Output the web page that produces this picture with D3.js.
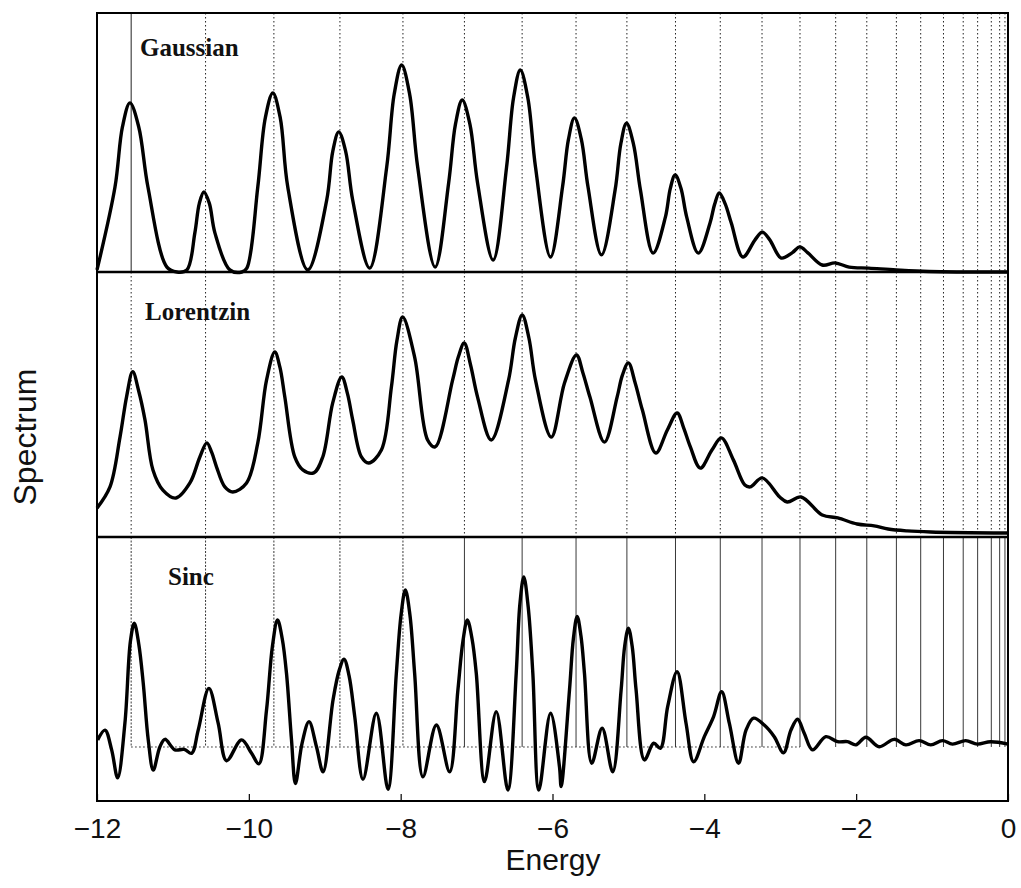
<!DOCTYPE html>
<html>
<head>
<meta charset="utf-8">
<script src="https://cdn.jsdelivr.net/npm/d3@7"></script>
<style>
  body { margin: 0; background: #fff; }
  svg { display: block; }
</style>
</head>
<body>
<div id="plot"></div>
<script>
var w = 1021,
    h = 888;

// energy levels (dotted lines)
var levels = [-11.55, -10.57, -9.67, -8.80, -7.97, -7.16, -6.40, -5.69, -5.02, -4.38,
  -3.79, -3.24, -2.74, -2.27, -1.86, -1.47, -1.15, -0.85, -0.59, -0.40, -0.22, -0.11, -0.04];

var xTicks = [-12, -10, -8, -6, -4, -2, 0];

var panelNames = ['Gaussian', 'Lorentzin', 'Sinc'];

// [energy, spectrum]
var gaussian = [
  [-12.00, 0.008], [-11.763, 0.328], [-11.665, 0.560], [-11.566, 0.653], [-11.450, 0.560],
  [-11.329, 0.328], [-11.079, 0.019], [-10.947, 0.000], [-10.816, 0.008], [-10.711, 0.151],
  [-10.652, 0.265], [-10.592, 0.309], [-10.520, 0.265], [-10.447, 0.151], [-10.25, 0.008],
  [-10.092, 0.000], [-10.026, 0.015], [-9.882, 0.328], [-9.783, 0.595], [-9.684, 0.691],
  [-9.586, 0.595], [-9.487, 0.328], [-9.224, 0.008], [-8.974, 0.278], [-8.895, 0.465],
  [-8.816, 0.541], [-8.724, 0.465], [-8.632, 0.278], [-8.408, 0.015], [-8.184, 0.405],
  [-8.085, 0.687], [-7.987, 0.799], [-7.882, 0.687], [-7.776, 0.405], [-7.546, 0.019],
  [-7.368, 0.344], [-7.278, 0.571], [-7.189, 0.664], [-7.088, 0.571], [-6.987, 0.344],
  [-6.782, 0.046], [-6.605, 0.405], [-6.514, 0.671], [-6.424, 0.780], [-6.324, 0.671],
  [-6.224, 0.405], [-6.026, 0.058], [-5.868, 0.328], [-5.790, 0.512], [-5.711, 0.595],
  [-5.620, 0.512], [-5.532, 0.328], [-5.355, 0.066], [-5.175, 0.317], [-5.100, 0.495],
  [-5.026, 0.575], [-4.934, 0.495], [-4.842, 0.317], [-4.675, 0.073], [-4.513, 0.212],
  [-4.448, 0.323], [-4.384, 0.375], [-4.308, 0.323], [-4.232, 0.212], [-4.079, 0.073],
  [-3.925, 0.189], [-3.864, 0.262], [-3.803, 0.305], [-3.724, 0.262], [-3.645, 0.189],
  [-3.492, 0.058], [-3.330, 0.125], [-3.237, 0.154], [-3.140, 0.125], [-2.987, 0.054],
  [-2.840, 0.075], [-2.742, 0.097], [-2.640, 0.075], [-2.447, 0.027], [-2.276, 0.035],
  [-2.092, 0.019], [-1.834, 0.015], [-1.474, 0.008], [-1.04, 0.002], [0, 0.000]
];

var lorentzin = [
  [-12.00, 0.109], [-11.829, 0.189], [-11.697, 0.377], [-11.610, 0.530], [-11.530, 0.624],
  [-11.450, 0.550], [-11.368, 0.442], [-11.263, 0.253], [-11.132, 0.177], [-10.961, 0.147],
  [-10.776, 0.204], [-10.645, 0.302], [-10.553, 0.355], [-10.490, 0.320], [-10.425, 0.264],
  [-10.316, 0.189], [-10.211, 0.170], [-10.030, 0.204], [-9.882, 0.355], [-9.767, 0.592],
  [-9.658, 0.698], [-9.590, 0.640], [-9.526, 0.528], [-9.395, 0.302], [-9.289, 0.253],
  [-9.145, 0.242], [-9.026, 0.302], [-8.895, 0.506], [-8.776, 0.604], [-8.700, 0.540],
  [-8.632, 0.442], [-8.517, 0.302], [-8.421, 0.279], [-8.254, 0.328], [-8.122, 0.566],
  [-8.050, 0.740], [-7.974, 0.830], [-7.816, 0.679], [-7.645, 0.366], [-7.546, 0.340],
  [-7.316, 0.592], [-7.240, 0.680], [-7.163, 0.732], [-7.080, 0.650], [-6.987, 0.528],
  [-6.807, 0.366], [-6.579, 0.592], [-6.490, 0.750], [-6.399, 0.838], [-6.310, 0.750],
  [-6.224, 0.592], [-6.016, 0.377], [-5.842, 0.581], [-5.684, 0.687], [-5.600, 0.620],
  [-5.507, 0.528], [-5.316, 0.358], [-5.149, 0.528], [-5.080, 0.610], [-5.000, 0.657],
  [-4.910, 0.580], [-4.816, 0.479], [-4.639, 0.317], [-4.487, 0.404], [-4.358, 0.468],
  [-4.270, 0.410], [-4.184, 0.340], [-4.053, 0.260], [-3.900, 0.328], [-3.776, 0.374],
  [-3.618, 0.291], [-3.466, 0.196], [-3.395, 0.189], [-3.237, 0.223], [-3.007, 0.151],
  [-2.908, 0.132], [-2.726, 0.151], [-2.447, 0.083], [-2.242, 0.072], [-1.987, 0.049],
  [-1.763, 0.042], [-1.579, 0.030], [-1.329, 0.023], [-1.018, 0.019], [0, 0.015]
];

var sinc = [
  [-11.991, 0.027], [-11.895, 0.064], [-11.807, -0.011], [-11.728, -0.117], [-11.632, 0.091],
  [-11.560, 0.400], [-11.509, 0.469], [-11.450, 0.390], [-11.391, 0.242], [-11.325, 0.027],
  [-11.259, -0.087], [-11.171, 0.001], [-11.105, 0.029], [-10.974, -0.011], [-10.851, -0.009],
  [-10.754, -0.024], [-10.667, 0.064], [-10.526, 0.222], [-10.404, 0.090], [-10.293, -0.052],
  [-10.096, 0.027], [-9.964, -0.024], [-9.868, -0.064], [-9.767, 0.140], [-9.690, 0.380],
  [-9.622, 0.481], [-9.560, 0.410], [-9.504, 0.279], [-9.438, 0.027], [-9.386, -0.138],
  [-9.299, 0.014], [-9.207, 0.096], [-9.109, 0.001], [-9.022, -0.094], [-8.891, 0.178],
  [-8.810, 0.290], [-8.746, 0.332], [-8.680, 0.270], [-8.605, 0.115], [-8.496, -0.122],
  [-8.320, 0.128], [-8.167, -0.160], [-8.057, 0.279], [-7.995, 0.500], [-7.938, 0.595],
  [-7.878, 0.500], [-7.816, 0.279], [-7.707, -0.113], [-7.530, 0.083], [-7.355, -0.094],
  [-7.246, 0.216], [-7.180, 0.400], [-7.122, 0.481], [-7.060, 0.410], [-7.004, 0.279],
  [-6.895, -0.131], [-6.741, 0.134], [-6.588, -0.163], [-6.478, 0.279], [-6.430, 0.540],
  [-6.378, 0.644], [-6.320, 0.530], [-6.259, 0.279], [-6.180, -0.163], [-6.026, 0.128],
  [-5.908, -0.075], [-5.886, -0.150], [-5.776, 0.216], [-5.725, 0.410], [-5.675, 0.494],
  [-5.625, 0.420], [-5.579, 0.279], [-5.483, -0.062], [-5.346, 0.071], [-5.207, -0.094],
  [-5.096, 0.216], [-5.050, 0.380], [-5.000, 0.450], [-4.950, 0.380], [-4.899, 0.216],
  [-4.789, -0.049], [-4.667, 0.014], [-4.579, -0.005], [-4.483, 0.153], [-4.359, 0.285],
  [-4.241, 0.090], [-4.141, -0.056], [-4.000, 0.039], [-3.878, 0.115], [-3.772, 0.209],
  [-3.671, 0.090], [-3.549, -0.062], [-3.451, 0.064], [-3.351, 0.109], [-3.211, 0.083],
  [-3.079, 0.039], [-2.957, -0.022], [-2.859, 0.064], [-2.772, 0.105], [-2.684, 0.052],
  [-2.575, -0.011], [-2.399, 0.039], [-2.246, 0.020], [-2.114, 0.020], [-2.004, 0.008],
  [-1.872, 0.037], [-1.697, 0.001], [-1.500, 0.029], [-1.346, 0.008], [-1.171, 0.024],
  [-1.017, 0.008], [-0.864, 0.024], [-0.732, 0.011], [-0.557, 0.024], [-0.404, 0.011],
  [-0.228, 0.020], [0, 0.011]
];

var svg = d3.select('#plot').append('svg')
    .attr('width', w)
    .attr('height', h)
    .style('background', '#fff');

var x = d3.scaleLinear().domain([-12, 0]).range([97, 1008]);

// one y scale per panel
var panels = [
  {name: panelNames[0], data: gaussian, y: d3.scaleLinear().domain([0, 1]).range([272, 13]), lx: 140, ly: 56},
  {name: panelNames[1], data: lorentzin, y: d3.scaleLinear().domain([0, 1]).range([537, 272]), lx: 145, ly: 320},
  {name: panelNames[2], data: sinc, y: d3.scaleLinear().domain([-0.2045, 0.795]).range([801, 537]), lx: 168, ly: 585}
];

panels.forEach(function(p, i) {
    var g = svg.append('g').attr('class', 'panel');
    var r = p.y.range();

    // level lines
    g.selectAll('.level')
        .data(levels)
        .enter()
        .append('line')
        .attr('x1', function(d){ return x(d); })
        .attr('x2', function(d){ return x(d); })
        .attr('y1', r[1])
        .attr('y2', i == 2 ? p.y(0) : r[0])
        .style('stroke', '#222')
        .style('stroke-width', i == 2 ? 0.9 : 1)
        .style('stroke-dasharray', function(d, j){
            if (i == 2) return j < 5 ? '2,1.5' : null;
            if (i == 0 && j == 0) return null;
            return '1.5,2.5';
        });

    if (i == 2) {
        g.append('line')
            .attr('x1', x(levels[0]))
            .attr('x2', x(levels[12]))
            .attr('y1', p.y(0))
            .attr('y2', p.y(0))
            .style('stroke', '#222')
            .style('stroke-width', 1)
            .style('stroke-dasharray', '1.5,2.5');
    }

    var line = d3.line()
        .x(function(d){ return x(d[0]); })
        .y(function(d){ return p.y(d[1]); })
        .curve(d3.curveCatmullRom.alpha(0.5));

    g.append('path')
        .datum(p.data)
        .attr('d', line)
        .style('fill', 'none')
        .style('stroke', '#000')
        .style('stroke-width', 3.4)
        .style('stroke-linejoin', 'round');

    g.append('text')
        .attr('x', p.lx)
        .attr('y', p.ly)
        .text(p.name)
        .style('font-family', '"Liberation Serif", "DejaVu Serif", serif')
        .style('font-weight', 'bold')
        .style('font-size', '25px')
        .style('fill', '#111');
});

// frame and panel dividers
svg.append('rect')
    .attr('x', 97).attr('y', 13)
    .attr('width', 1008 - 97).attr('height', 801 - 13)
    .style('fill', 'none')
    .style('stroke', '#000')
    .style('stroke-width', 2);

[272, 537].forEach(function(yy) {
    svg.append('line')
        .attr('x1', 97).attr('x2', 1008)
        .attr('y1', yy).attr('y2', yy)
        .style('stroke', '#000')
        .style('stroke-width', 2.4);
});

// x axis
var xAxis = d3.axisBottom(x)
    .tickValues(xTicks)
    .tickSizeInner(-7)
    .tickSizeOuter(0)
    .tickPadding(17);

var ax = svg.append('g')
    .attr('transform', 'translate(0,801)')
    .call(xAxis);
ax.select('.domain').remove();
ax.selectAll('line').style('stroke', '#000').style('stroke-width', 1.2);
ax.selectAll('text')
    .style('font-family', '"Liberation Sans", Arial, sans-serif')
    .style('font-size', '28px')
    .style('fill', '#111');

svg.append('text')
    .attr('x', 553)
    .attr('y', 870)
    .attr('text-anchor', 'middle')
    .text('Energy')
    .style('font-family', '"Liberation Sans", Arial, sans-serif')
    .style('font-size', '30px')
    .style('fill', '#111');

svg.append('text')
    .attr('transform', 'translate(36,437) rotate(-90)')
    .attr('text-anchor', 'middle')
    .text('Spectrum')
    .style('font-family', '"Liberation Sans", Arial, sans-serif')
    .style('font-size', '32px')
    .style('fill', '#111');
</script>
</body>
</html>
